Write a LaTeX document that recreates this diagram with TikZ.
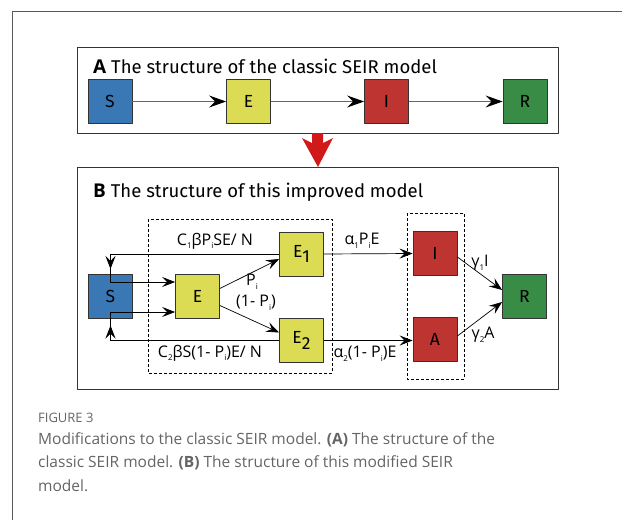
\documentclass[tikz,border=0pt]{standalone}
\usepackage{fontspec}
\setmainfont{Open Sans}
\newfontfamily\diagfont{Fira Sans}
\usetikzlibrary{arrows.meta,positioning}

\definecolor{sblue}{RGB}{58,120,181}
\definecolor{eyellow}{RGB}{220,220,84}
\definecolor{ired}{RGB}{190,52,49}
\definecolor{rgreen}{RGB}{56,140,70}
\definecolor{capgray}{RGB}{100,100,100}

\newcommand{\sbs}[1]{\raisebox{-0.22em}{\fontsize{8}{9}\selectfont #1}}

\begin{document}
\begin{tikzpicture}[x=1pt,y=-1pt,line join=round,
	comp/.style={draw=black!80,line width=0.8pt,minimum size=44pt,inner sep=0pt,font=\diagfont\fontsize{17.5}{20}\selectfont},
	flowA/.style={draw=black!60,line width=1.1pt,-{Stealth[length=17pt,width=12pt,inset=6pt,black]}},
	flowB/.style={draw=black,line width=0.7pt,-{Stealth[length=13pt,width=10pt,inset=5pt]}},
	lbl/.style={font=\fontsize{16}{18}\selectfont,inner sep=1pt},
	title/.style={anchor=west,font=\diagfont\fontsize{18.5}{21}\selectfont,inner sep=0pt},
	dashbox/.style={draw=black,line width=0.6pt,dash pattern=on 3pt off 2pt}]
	\useasboundingbox (0,0) rectangle (622,520);
	% outer figure frame
	\draw [black!65,line width=1pt] (622,11) -- (12,11) -- (12,520);
	% panel A
	\draw [black!80,line width=0.8pt] (77,47) rectangle (558,133);
	\node [title] (titleA) at (93,66) {{\setmainfont{Open Sans}\bfseries\fontsize{19}{21}\selectfont A} The structure of the classic SEIR model};
	\node [comp,fill=sblue] (S) at (110,101.5) {S};
	\node [comp,fill=eyellow] (E) at (248.5,101.5) {E};
	\node [comp,fill=ired] (I) at (386.5,101.5) {I};
	\node [comp,fill=rgreen] (R) at (525,101.5) {R};
	\draw [flowA] (S) -- (E);
	\draw [flowA] (E) -- (I);
	\draw [flowA] (I) -- (R);
	% red arrow between the panels
	\fill [red!80!black!90] (312,133) -- (323,133) -- (323,143) -- (333,138) -- (318,167) -- (302,138) -- (312,143) -- cycle;
	% panel B
	\draw [black!80,line width=0.8pt] (77,167) rectangle (558,389);
	\node [title] (titleB) at (93,192) {{\setmainfont{Open Sans}\bfseries\fontsize{19}{21}\selectfont B} The structure of this improved model};
	\draw [dashbox] (148,219) rectangle (332,373);
	\draw [dashbox] (407,213) rectangle (464,379);
	\node [comp,fill=sblue] (Sb) at (110.5,296.5) {S};
	\node [comp,fill=eyellow] (Eb) at (197.5,296.5) {E};
	\node [comp,fill=eyellow] (Eone) at (301.5,254) {E\raisebox{-0.3em}{1}};
	\node [comp,fill=eyellow] (Etwo) at (301.5,340.5) {E\raisebox{-0.3em}{2}};
	\node [comp,fill=ired] (Ib) at (435,253.5) {I};
	\node [comp,fill=ired] (Ab) at (435,339.5) {A};
	\node [comp,fill=rgreen] (Rb) at (524.5,296.5) {R};
	\coordinate (kone) at (110.5,282);
	\coordinate (ktwo) at (110.5,312);
	% feedback paths through S
	\draw [flowB] (Eone.west) -- (Eone.west -| Sb) -- (kone) -- (kone -| Eb.west);
	\draw [flowB] (Eone.west -| Sb) -- ++(0,15);
	\draw [flowB] (Etwo.west) -- (Etwo.west -| Sb) -- (ktwo) -- (ktwo -| Eb.west);
	\draw [flowB] (Etwo.west -| Sb) -- ++(0,-15);
	% branches
	\draw [flowB] ([yshift=8pt]Eb.east) -- ([yshift=-5pt]Eone.west);
	\draw [flowB] ([yshift=-9pt]Eb.east) -- ([yshift=8pt]Etwo.west);
	\draw [flowB] (Eone.east) -- (Ib.west);
	\draw [flowB] (Etwo.east) -- (Etwo.east -| Ab.west);
	\draw [flowB] ([yshift=-3.5pt]Ib.east) -- ([yshift=6.5pt]Rb.west);
	\draw [flowB] ([yshift=3.5pt]Ab.east) -- ([yshift=-5.5pt]Rb.west);
	% rates
	\node [lbl] (rone) at (215,241) {C\sbs{1}βP\sbs{i}SE/ N};
	\node [lbl] (rtwo) at (210,353) {C\sbs{2}βS(1- P\sbs{i})E/ N};
	\node [lbl] (pone) at (252,282) {P\sbs{i}};
	\node [lbl] (ptwo) at (256,303) {(1- P\sbs{i})};
	\node [lbl] (aone) at (362,241) {α\sbs{1}P\sbs{i}E};
	\node [lbl] (atwo) at (365,354) {α\sbs{2}(1- P\sbs{i})E};
	\node [lbl] (gone) at (480,263) {γ\sbs{1}I};
	\node [lbl] (gtwo) at (483,335) {γ\sbs{2}A};
	% caption
	\node [anchor=north west,inner sep=0pt,text=capgray,font=\fontsize{13}{15}\selectfont] (fig) at (38,413) {FIGURE 3};
	\node [anchor=north west,inner sep=0pt,text=capgray,align=left,font=\fontsize{15.5}{23.5}\selectfont] (cap) at (38,432)
	{Modifications to the classic SEIR model. \textbf{(A)} The structure of the\\
	 classic SEIR model. \textbf{(B)} The structure of this modified SEIR\\
	 model.};
\end{tikzpicture}
\end{document}
